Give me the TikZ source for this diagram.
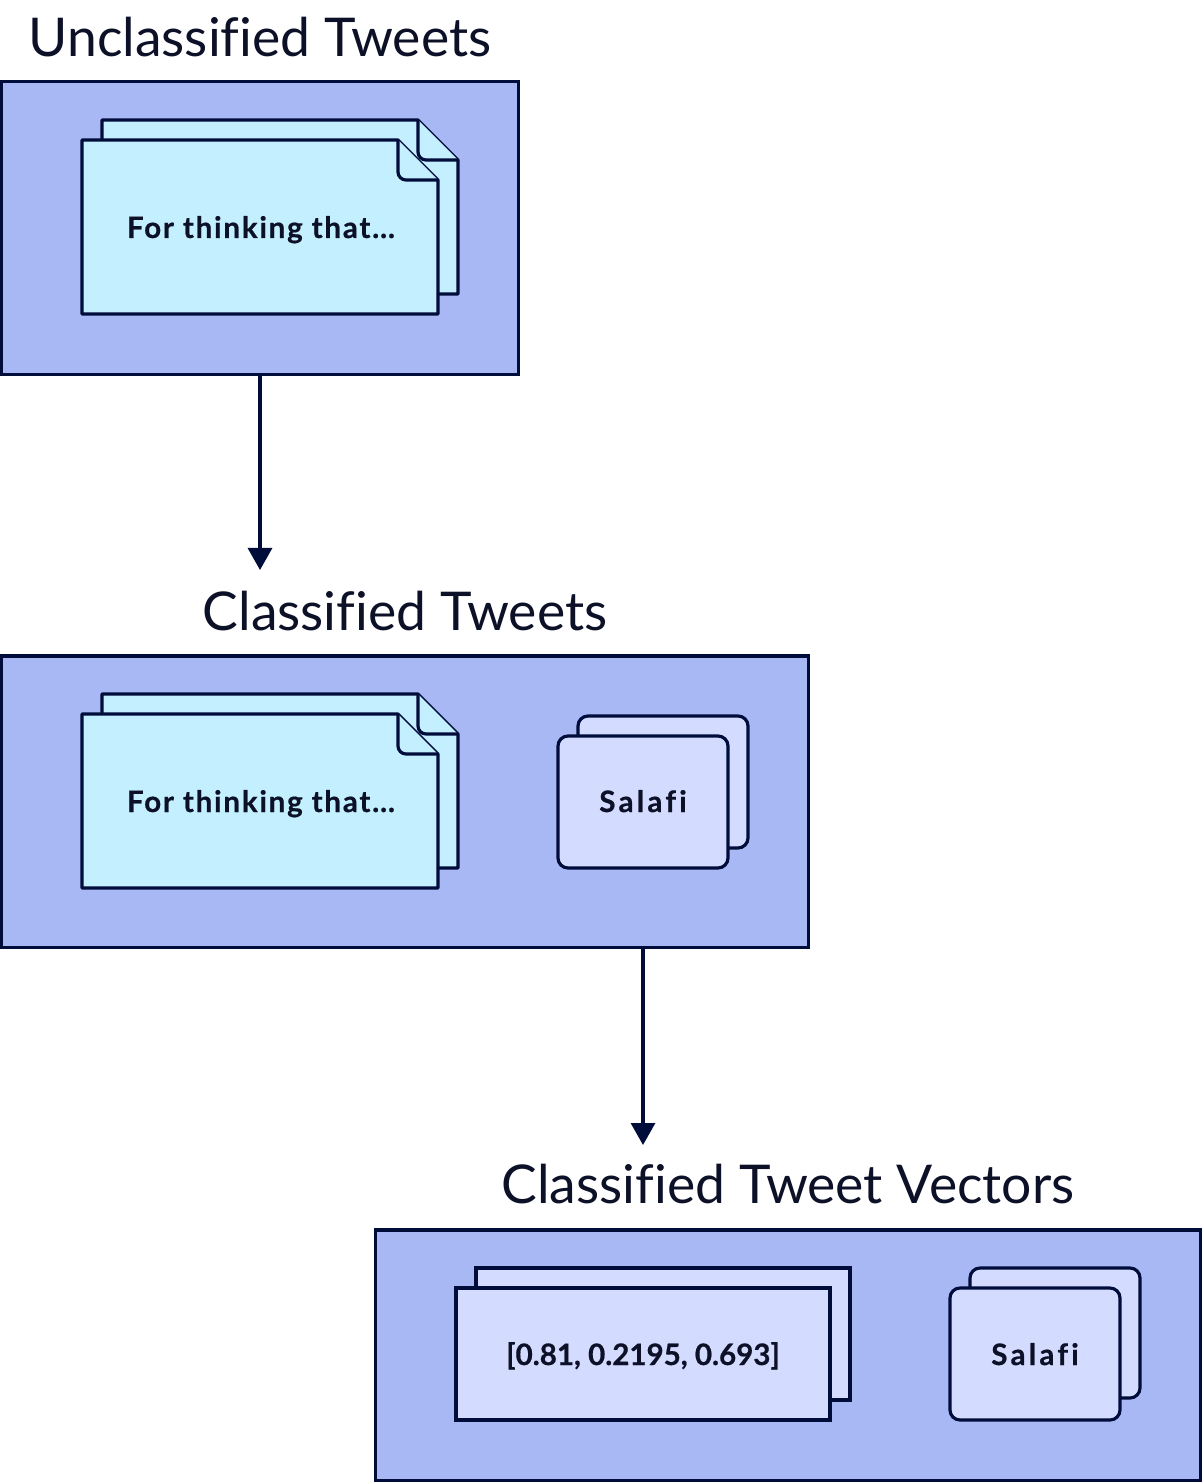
\documentclass[tikz,border=0pt]{standalone}
\usepackage{fontspec}
\setmainfont{Lato}[Ligatures=NoCommon]
\newfontfamily\itemfont{Lato}[Ligatures=NoCommon, FakeBold=0.6, LetterSpace=6]
\newfontfamily\tagfont{Lato}[Ligatures=NoCommon, FakeBold=0.6, LetterSpace=11]
\newfontfamily\vectorfont{Lato}[Ligatures=NoCommon, FakeBold=0.6]
\usetikzlibrary{
	arrows.meta,
	calc,
	positioning
}
\definecolor{ink}{HTML}{000D3B}
\definecolor{textink}{HTML}{0D1128}
\definecolor{panelfill}{HTML}{A8B8F5}
\definecolor{paperfill}{HTML}{C3EFFE}
\definecolor{cardfill}{HTML}{D3DBFE}

% sheet with a folded corner: left, top, right, bottom (pixels, y downwards)
\newcommand{\foldsheet}[4]{%
	\draw[sheet] (#1,#2) -- (#3-40,#2) -- (#3,#2+40) -- (#3,#4) -- (#1,#4) -- cycle;
	\draw[sheet, rounded corners=0.08cm] (#3-40,#2) -- (#3-40,#2+40) -- (#3,#2+40);
}

\begin{document}
\begin{tikzpicture}[
	x=0.01cm, y=-0.01cm,
	>=Stealth,
	panelbox/.style={draw=ink, line width=0.9pt, fill=panelfill},
	sheet/.style={draw=ink, line width=0.9pt, fill=paperfill, line join=round},
	cardbox/.style={draw=ink, line width=0.9pt, fill=cardfill, rounded corners=0.1cm},
	vecbox/.style={draw=ink, line width=0.9pt, fill=cardfill},
	title/.style={anchor=base, inner sep=0pt, text=textink, font=\fontsize{15.2}{18}\selectfont},
	itemtext/.style={anchor=base, inner sep=0pt, text=textink, font=\fontsize{8.4}{10}\selectfont\itemfont\bfseries},
	tagtext/.style={itemtext, font=\fontsize{8.4}{10}\selectfont\tagfont\bfseries},
	vectortext/.style={itemtext, font=\fontsize{8.4}{10}\selectfont\vectorfont\bfseries},
	flow/.style={-{Triangle[width=0.24cm, length=0.22cm]}, draw=ink, fill=ink, line width=0.9pt}
	]
	\useasboundingbox (0,0) rectangle (1202,1482);
	
	% --- Unclassified tweets ---
	\node[title] (utitle) at (260,57) {Unclassified Tweets};
	\node[panelbox, minimum width=5.16cm, minimum height=2.92cm] (ubox) at (260,228) {};
	\foldsheet{102}{120}{458}{294}
	\foldsheet{82}{140}{438}{314}
	\node[itemtext] (utweet) at (261,238) {For thinking that…};
	
	% --- Classified tweets ---
	\node[title] (ctitle) at (405,630) {Classified Tweets};
	\node[panelbox, minimum width=8.06cm, minimum height=2.91cm] (cbox) at (405,801.5) {};
	\foldsheet{102}{694}{458}{868}
	\foldsheet{82}{714}{438}{888}
	\node[itemtext] (ctweet) at (261,812) {For thinking that…};
	\draw[cardbox] (578,716) rectangle (748,848);
	\draw[cardbox] (558,736) rectangle (728,868);
	\node[tagtext] (clabel) at (643,812) {Salafi};
	
	% --- Classified tweet vectors ---
	\node[title] (vtitle) at (788,1203) {Classified Tweet Vectors};
	\node[panelbox, minimum width=8.24cm, minimum height=2.5cm] (vbox) at (788,1355) {};
	\draw[vecbox] (476,1268) rectangle (850,1400);
	\draw[vecbox] (456,1288) rectangle (830,1420);
	\node[vectortext] (vvector) at (643,1365) {[0.81, 0.2195, 0.693]};
	\draw[cardbox] (970,1268) rectangle (1140,1398);
	\draw[cardbox] (950,1288) rectangle (1120,1420);
	\node[tagtext] (vlabel) at (1035,1365) {Salafi};
	
	% arrows between the stages
	\coordinate (uend) at (260,570);
	\coordinate (cend) at (643,1145);
	\draw[flow] (ubox.south) -- (uend);
	\draw[flow] (clabel |- cbox.south) -- (cend);
\end{tikzpicture}
\end{document}
